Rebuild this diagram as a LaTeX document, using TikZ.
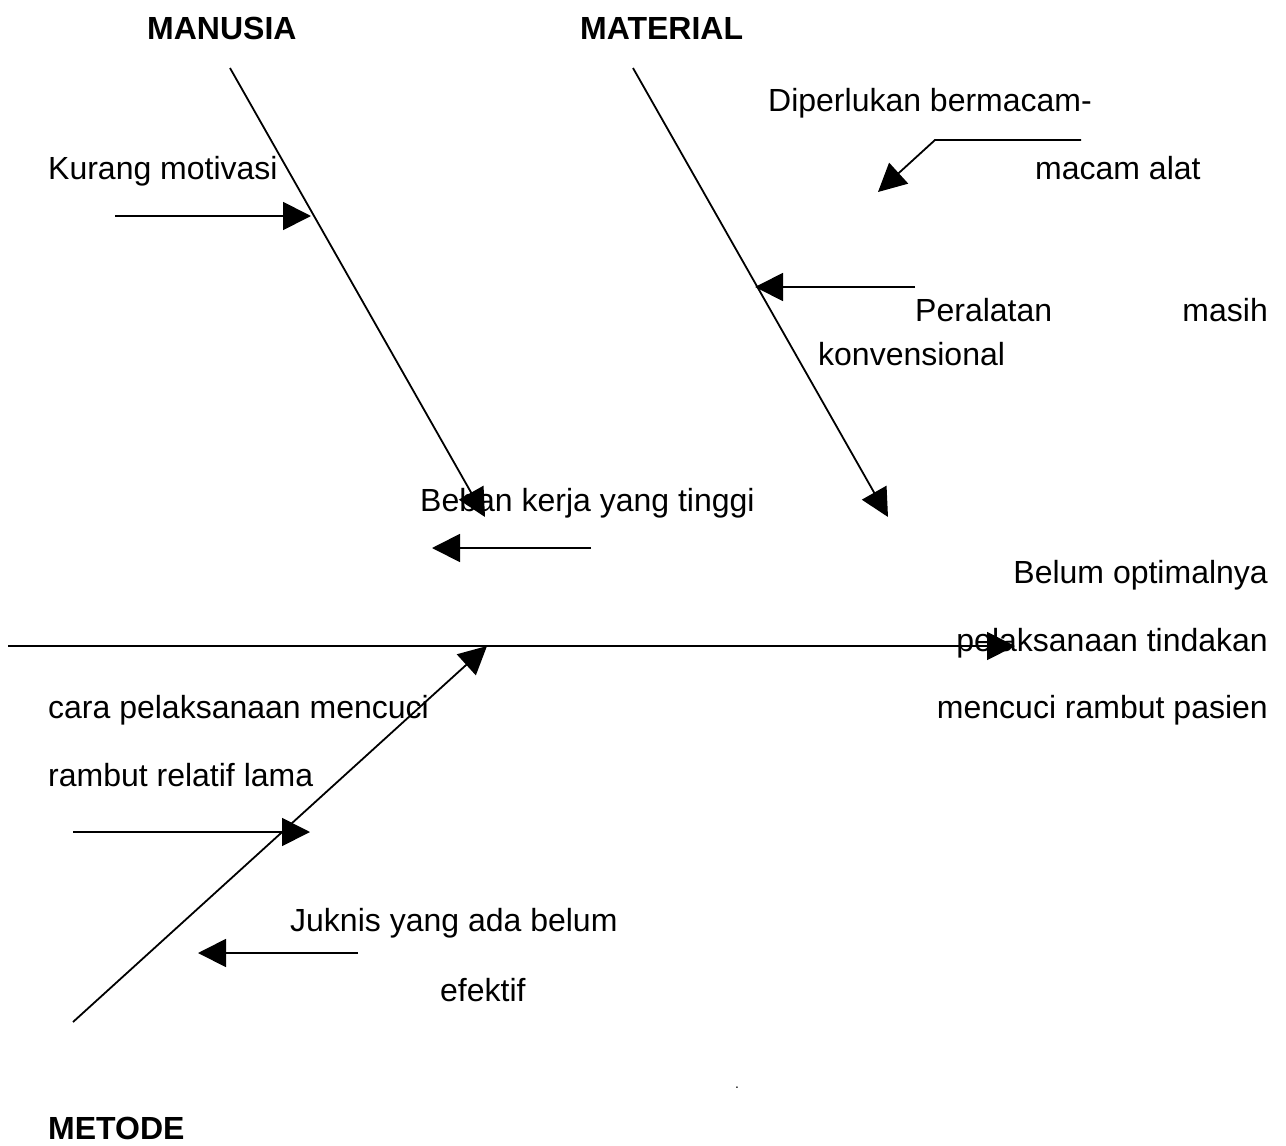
\documentclass[tikz,border=0pt]{standalone}
\usepackage{fontspec}
\setmainfont{Liberation Sans}
\usetikzlibrary{arrows.meta}
\begin{document}
\begin{tikzpicture}[x=1pt,y=-1pt,
  lbl/.style={anchor=base west,inner sep=0pt,font=\fontsize{32}{38}\selectfont},
  lblr/.style={anchor=base east,inner sep=0pt,font=\fontsize{32}{38}\selectfont},
  hdr/.style={anchor=base west,inner sep=0pt,font=\fontsize{32}{38}\selectfont\bfseries},
  arr/.style={line width=1.8pt,-{Triangle[length=28pt,width=28pt]}}]
\useasboundingbox (0,0) rectangle (1286,1146);
% coordinates
\coordinate (manS) at (230,68);
\coordinate (manE) at (485,517);
\coordinate (matS) at (633,68);
\coordinate (matE) at (888,517);
\coordinate (spS) at (8,646);
\coordinate (spE) at (1015,646);
\coordinate (metS) at (73,1022);
\coordinate (metE) at (487,646);
\coordinate (kmS) at (115,216);
\coordinate (kmE) at (311,216);
\coordinate (dpA) at (1081,140);
\coordinate (dpB) at (935,140);
\coordinate (dpE) at (878,192);
\coordinate (peS) at (915,287);
\coordinate (peE) at (755,287);
\coordinate (bbS) at (591,548);
\coordinate (bbE) at (432,548);
\coordinate (crS) at (73,832);
\coordinate (crE) at (310,832);
\coordinate (jkS) at (358,953);
\coordinate (jkE) at (198,953);
% connectors
\draw[arr] (manS) -- (manE);
\draw[arr] (matS) -- (matE);
\draw[arr] (spS) -- (spE);
\draw[arr] (metS) -- (metE);
\draw[arr] (kmS) -- (kmE);
\draw[arr] (dpA) -- (dpB) -- (dpE);
\draw[arr] (peS) -- (peE);
\draw[arr] (bbS) -- (bbE);
\draw[arr] (crS) -- (crE);
\draw[arr] (jkS) -- (jkE);
% texts
\node[hdr] (manusia) at (147,39) {MANUSIA};
\node[hdr] (material) at (580,39) {MATERIAL};
\node[hdr] (metode) at (48,1139) {METODE};
\node[lbl] (dp1) at (768,111) {Diperlukan bermacam-};
\node[lbl] (dp2) at (1035,179) {macam alat};
\node[lbl] (km) at (48,179) {Kurang motivasi};
\node[lbl] (pe1) at (915,321) {Peralatan};
\node[lblr] (pe2) at (1268,321) {masih};
\node[lbl] (pe3) at (818,365) {konvensional};
\node[lbl] (bb) at (420,511) {Beban kerja yang tinggi};
\node[lblr] (ef1) at (1268,583) {Belum optimalnya};
\node[lblr] (ef2) at (1268,651) {pelaksanaan tindakan};
\node[lblr] (ef3) at (1268,718) {mencuci rambut pasien};
\node[lbl] (cr1) at (48,718) {cara pelaksanaan mencuci};
\node[lbl] (cr2) at (48,786) {rambut relatif lama};
\node[lbl] (jk1) at (290,931) {Juknis yang ada belum};
\node[lbl] (jk2) at (440,1001) {efektif};
\node[anchor=base west,inner sep=0pt,font=\fontsize{14}{16}\selectfont] (dot) at (735,1088) {.};
\end{tikzpicture}
\end{document}
